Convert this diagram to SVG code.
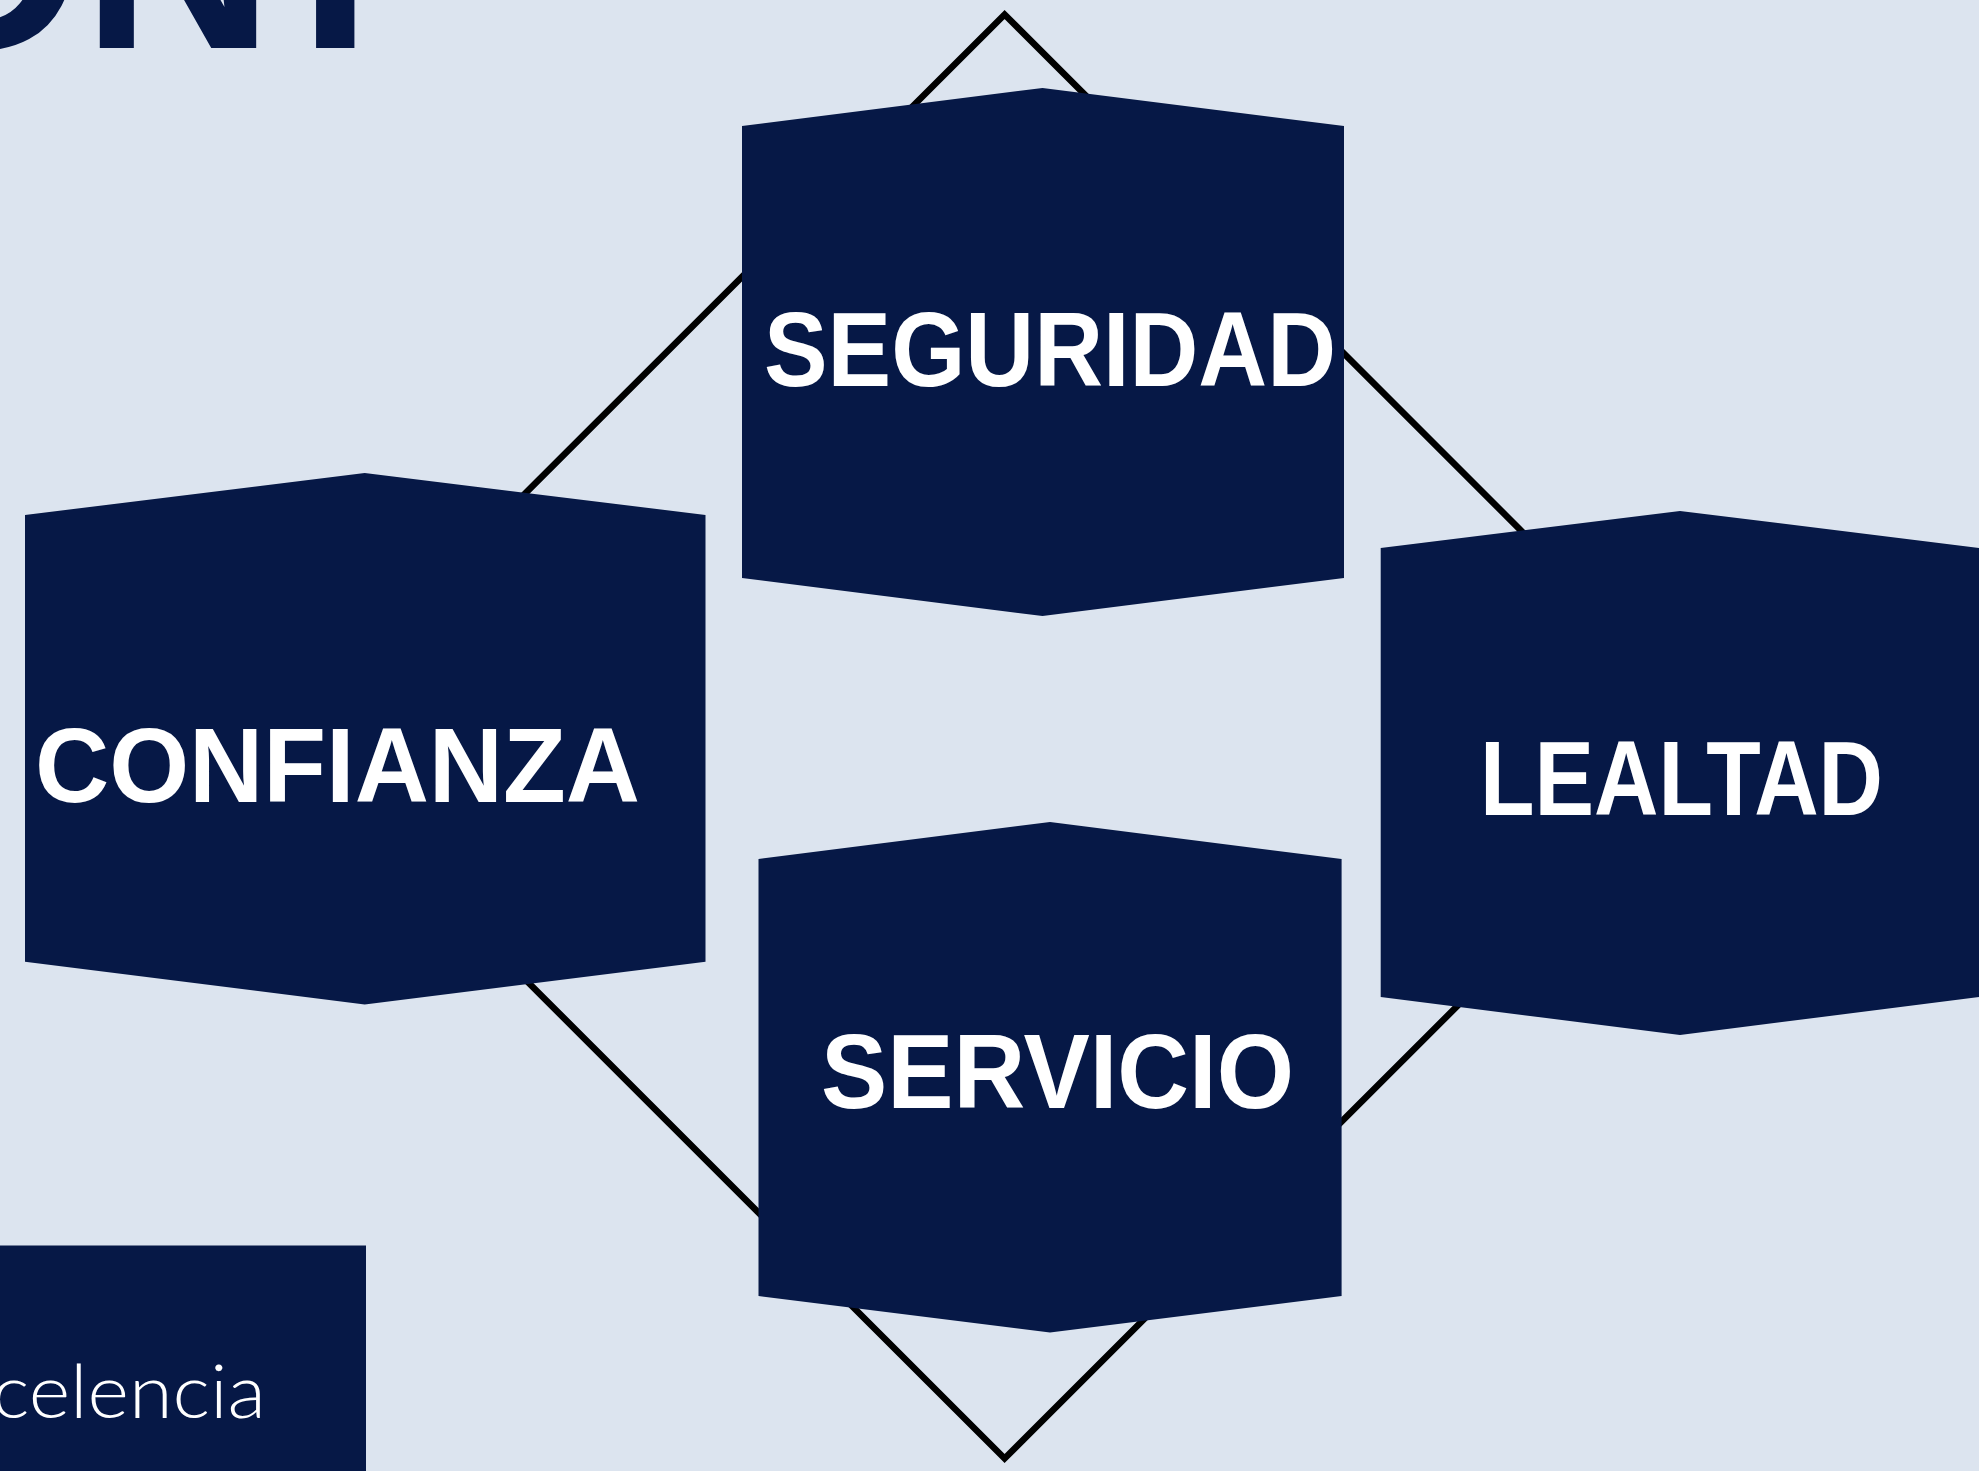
<svg xmlns="http://www.w3.org/2000/svg" width="1979" height="1471" viewBox="0 0 1979 1471">
  <style>
    .hex { fill: #061846; }
    .lbl { fill: #FFFFFF; font-family: "Liberation Sans", "DejaVu Sans", sans-serif; font-weight: 700; font-size: 106px; }
    .conn { fill: none; stroke: #000000; stroke-width: 6.5; stroke-linejoin: miter; }
    .title { fill: #061846; font-family: "Liberation Sans", "DejaVu Sans", sans-serif; font-weight: 700; font-size: 266px; }
    .thin { fill: #FFFFFF; font-family: Lato, "Open Sans", "Liberation Sans", sans-serif; font-weight: 300; font-size: 74px; }
  </style>
  <rect x="0" y="0" width="1979" height="1471" fill="#DCE4EF"/>

  <g id="title">
    <text class="title" y="48"><tspan x="-123">O</tspan><tspan x="82">N</tspan><tspan x="254">T</tspan></text>
  </g>

  <g id="connectors">
    <polygon class="conn" points="1004.6,14.5 1727,736.4 1004.6,1458.5 282,736.4"/>
  </g>

  <g id="node-seguridad">
    <polygon class="hex" points="742,126 1042.5,88 1344,126 1344,578 1042.5,616 742,578"/>
    <text class="lbl" x="764" y="386" textLength="572" lengthAdjust="spacingAndGlyphs">SEGURIDAD</text>
  </g>

  <g id="node-confianza">
    <polygon class="hex" points="25,515 364.7,473 705.5,515 705.5,961.7 364.7,1004.6 25,961.7"/>
    <text class="lbl" x="35" y="802" textLength="605" lengthAdjust="spacingAndGlyphs">CONFIANZA</text>
  </g>

  <g id="node-lealtad">
    <polygon class="hex" points="1380.7,548 1680,511 1979.3,548 1979.3,997 1680,1035 1380.7,997"/>
    <text class="lbl" x="1480" y="815" textLength="403" lengthAdjust="spacingAndGlyphs">LEALTAD</text>
  </g>

  <g id="node-servicio">
    <polygon class="hex" points="758.5,859 1050,822 1341.6,859 1341.6,1296 1050,1332.5 758.5,1296"/>
    <text class="lbl" x="821" y="1108" textLength="473" lengthAdjust="spacingAndGlyphs">SERVICIO</text>
  </g>

  <g id="node-excelencia">
    <rect class="hex" x="0" y="1245.5" width="366" height="225.5"/>
    <text class="thin" x="-8" y="1418" textLength="274" lengthAdjust="spacingAndGlyphs">celencia</text>
  </g>
</svg>
